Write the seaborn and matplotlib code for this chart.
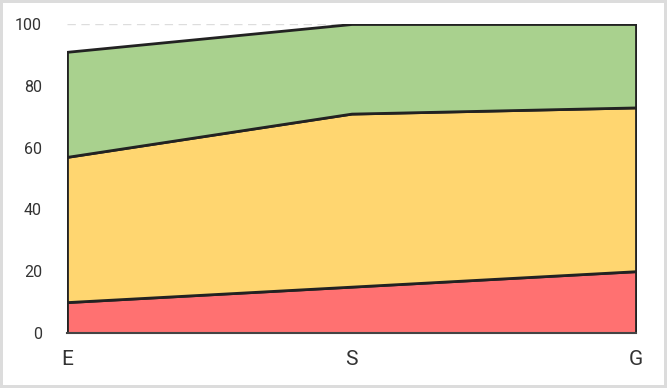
import matplotlib
matplotlib.use("Agg")
import matplotlib.pyplot as plt
import seaborn as sns
import numpy as np

# Data
categorias = ["E", "S", "G"]
rojo = [10, 15, 20]
amarillo = [47, 56, 53]
verde = [34, 29, 27]

colores = ["#FF7171", "#FFD670", "#A9D18E"]

sns.set_theme(style="white")
plt.rcParams['font.family'] = ['Roboto', 'DejaVu Sans']

fig = plt.figure(figsize=(6.67, 3.88), dpi=100)
fig.patch.set_facecolor("white")
fig.patch.set_edgecolor("#dcdcdc")
fig.patch.set_linewidth(3)
ax = fig.add_axes([67 / 667, (388 - 333) / 388, (636 - 67) / 667, (333 - 24) / 388])

x = np.arange(len(categorias))
ax.stackplot(x, rojo, amarillo, verde, colors=colores,
             edgecolor="#222222", linewidth=2, zorder=3)

ax.set_xlim(0, len(categorias) - 1)
ax.set_ylim(0, 100)
ax.set_yticks(range(0, 101, 20))
ax.set_xticks(x)
ax.set_xticklabels(categorias, fontsize=15, color="#333333")
ax.tick_params(axis="y", labelsize=11.5, labelcolor="#333333", length=0, pad=18)
ax.tick_params(axis="x", length=0, pad=12)

ax.yaxis.grid(True, linestyle=(0, (6, 4)), color="#dddddd", linewidth=1, zorder=0)
ax.xaxis.grid(False)
sns.despine(ax=ax, left=True, top=True, right=True)
ax.spines["bottom"].set_color("#444444")
ax.spines["bottom"].set_linewidth(1.5)
ax.spines["bottom"].set_zorder(4)

fig.savefig("out.png", dpi=100, facecolor=fig.get_facecolor(), edgecolor=fig.get_edgecolor())
